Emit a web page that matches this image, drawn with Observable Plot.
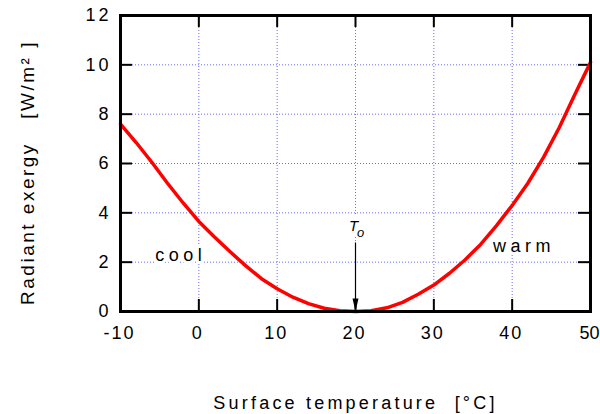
<!DOCTYPE html>
<html><head><meta charset="utf-8">
<script src="https://cdn.jsdelivr.net/npm/d3@7"></script>
<script src="https://cdn.jsdelivr.net/npm/@observablehq/plot@0.6"></script>
<style>
body{margin:0;background:#fff}
#chart text{letter-spacing:3px;white-space:pre}
#chart g[aria-label="x-axis tick label"] text{letter-spacing:2px}
</style></head><body><div id="chart"></div>
<script>
const temps  = [-10,-8,-6,-4,-2,0,2,4,6,8,10,12,14,16,18,20,22,24,26,28,30,32,34,36,38,40,42,44,46,48,50];
const exergy = [7.6,6.85,6.05,5.2,4.4,3.65,3.02,2.42,1.85,1.33,0.92,0.58,0.32,0.13,0.03,0,0.03,0.15,0.37,0.7,1.07,1.55,2.1,2.73,3.48,4.3,5.2,6.25,7.45,8.8,10.1];
const xTicks = [-10,0,10,20,30,40,50];
const yTicks = [0,2,4,6,8,10,12];
const T0 = 20;
const xTitle = "Surface temperature  [°C]";
const yTitle = "Radiant exergy   [W/m² ]";
const regionLabels = ["cool", "warm"];

const data = temps.map((t, i) => ({t, e: exergy[i]}));
const xGrid = xTicks.slice(1, -1), yGrid = yTicks.slice(1, -1);
const W = 600, H = 414, mL = 120, mR = 10, mT = 15, mB = 103;
const plotW = W - mL - mR, plotH = H - mT - mB, tickLen = 12;
const narrowTriangle = {draw(ctx) {ctx.moveTo(0, 0); ctx.lineTo(-3, -13); ctx.lineTo(3, -13); ctx.closePath();}};
const gridStyle = {stroke: "#6a6aff", strokeDasharray: "1,2", strokeWidth: 1};

const chart = Plot.plot({
  width: W, height: H, marginLeft: mL, marginRight: mR, marginTop: mT, marginBottom: mB,
  style: {fontFamily: "'Liberation Sans', Arial, sans-serif", fontSize: "18px", color: "#000", background: "#fff"},
  x: {domain: [-10, 50]},
  y: {domain: [0, 12]},
  marks: [
    Plot.ruleX(xGrid, gridStyle),
    Plot.ruleY(yGrid, gridStyle),
    Plot.ruleX(xGrid, {insetTop: plotH - tickLen, strokeWidth: 2}),
    Plot.ruleX(xGrid, {insetBottom: plotH - tickLen, strokeWidth: 2}),
    Plot.ruleY(yGrid, {insetRight: plotW - tickLen, strokeWidth: 2}),
    Plot.ruleY(yGrid, {insetLeft: plotW - tickLen, strokeWidth: 2}),
    Plot.axisX(xTicks, {tickSize: 0, tickPadding: 15, fontSize: 18, label: null, tickFormat: d => String(d), dx: -1}),
    Plot.axisY(yTicks, {tickSize: 0, tickPadding: 9, fontSize: 18, label: null, tickFormat: d => String(d)}),
    Plot.text([regionLabels[0]], {x: -2.3, y: 2.29, fontSize: 18, fill: "black", stroke: "white", strokeWidth: 6}),
    Plot.text([regionLabels[1]], {x: 41.5, y: 2.65, fontSize: 18, fill: "black", stroke: "white", strokeWidth: 6}),
    Plot.text(["T"], {x: T0, y: 3.45, dx: -2, fontSize: 15, fontStyle: "italic", fill: "black", stroke: "white", strokeWidth: 12}),
    Plot.text(["o"], {x: T0, y: 3.45, dx: 5, dy: 6, fontSize: 13, fontStyle: "italic", fill: "black"}),
    Plot.link([T0], {x1: d => d, x2: d => d, y1: 2.8, y2: 0, stroke: "black", strokeWidth: 1.2}),
    Plot.dot([T0], {x: d => d, y: 0, symbol: narrowTriangle, fill: "black", stroke: "none"}),
    Plot.line(data, {x: "t", y: "e", stroke: "#ff0000", strokeWidth: 3.5}),
    Plot.frame({strokeWidth: 3}),
    Plot.text([xTitle], {frameAnchor: "bottom", dy: 97, fontSize: 18, fill: "black"}),
    Plot.text([yTitle], {frameAnchor: "left", textAnchor: "middle", lineAnchor: "middle", rotate: -90, dx: -93, dy: 9, fontSize: 19, fill: "black"})
  ]
});
const sel = d3.select(chart).selectAll("text");
sel.filter(function() { return regionLabels.includes(this.textContent); }).style("letter-spacing", "4.5px");
sel.filter(function() { return this.textContent === yTitle; }).style("letter-spacing", "2.5px");
sel.filter(function() { return this.textContent === xTitle; }).style("letter-spacing", "3.2px");
sel.filter(function() { return this.textContent === "T" || this.textContent === "o"; }).style("letter-spacing", "0px");
d3.select(chart).selectAll('g[aria-label="x-axis tick label"] text')
  .filter(function() { return this.textContent === String(xTicks[xTicks.length - 1]); })
  .style("letter-spacing", "0px");
document.getElementById("chart").append(chart);
</script></body></html>
